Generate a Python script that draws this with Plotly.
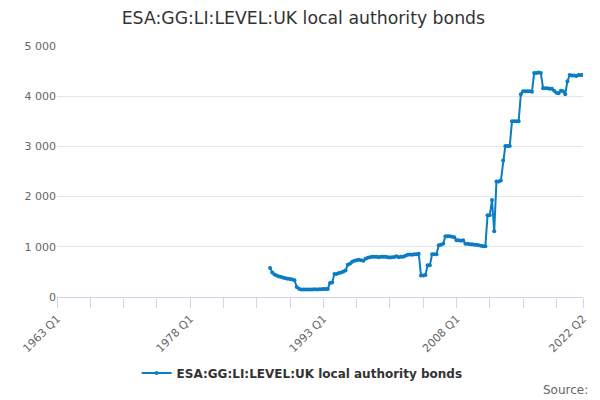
import plotly.graph_objects as go

# quarter labels 1963 Q1 .. 2022 Q2 (category axis)
quarters = [f"{y} Q{q}" for y in range(1963, 2023) for q in range(1, 5)][:238]

# values, 1987 Q1 .. 2022 Q2
first_quarter = "1987 Q1"
bonds = [
    580, 490, 450, 430, 410, 400, 385, 375, 365, 360, 350, 335,
    200, 165, 150, 148, 148, 150, 150, 150, 152, 150, 155, 155,
    160, 160, 160, 280, 290, 460, 460, 480, 490, 510, 530, 640,
    660, 700, 720, 730, 740, 730, 720, 760, 780, 790, 800, 800,
    800, 790, 800, 800, 800, 790, 785, 790, 795, 810, 790, 800,
    800, 820, 840, 845, 840, 850, 850, 860, 430, 430, 440, 630,
    630, 850, 850, 850, 1030, 1040, 1060, 1210, 1210, 1210, 1200, 1190,
    1130, 1130, 1120, 1130, 1060, 1060, 1050, 1050, 1040, 1040, 1030, 1020,
    1010, 1010, 1630, 1630, 1930, 1310, 2300, 2300, 2320, 2720, 3010, 3010,
    3010, 3500, 3500, 3500, 3500, 4040, 4100, 4100, 4100, 4100, 4090, 4460,
    4460, 4470, 4460, 4160, 4160, 4160, 4150, 4150, 4110, 4070, 4060, 4110,
    4100, 4040, 4300, 4420, 4410, 4410, 4400, 4420, 4420, 4420,
]
start = quarters.index(first_quarter)
x_data = quarters[start:start + len(bonds)]

tick_quarters = quarters[::15] + [quarters[-1]]
tick_labels = [q if q in ("1963 Q1", "1978 Q1", "1993 Q1", "2008 Q1", "2022 Q2") else ""
               for q in tick_quarters]

series_name = "ESA:GG:LI:LEVEL:UK local authority bonds"

fig = go.Figure()
fig.add_trace(go.Scatter(
    x=x_data, y=bonds, mode="lines+markers", name=series_name,
    line=dict(color="#0b7dc3", width=2),
    marker=dict(color="#0b7dc3", size=4),
))

# page body has an 8px margin, so the figure is 8px smaller and shifted
fig.update_layout(
    width=592, height=392,
    margin=dict(l=49, r=17, t=38, b=103),
    paper_bgcolor="white", plot_bgcolor="white",
    font=dict(family="DejaVu Sans", color="#666666", size=11),
    separators=". ",
    title=dict(text=series_name, x=0.499, xanchor="center", y=0.975, yanchor="middle",
               font=dict(size=17.3, color="#333333")),
    showlegend=True,
    legend=dict(orientation="h", x=0.466, xanchor="center", y=-0.303, yanchor="middle",
                font=dict(size=12, color="#333333", family="DejaVu Sans", weight="bold")),
    xaxis=dict(
        type="category", categoryorder="array", categoryarray=quarters,
        range=[0, len(quarters) - 1],
        tickmode="array", tickvals=tick_quarters, ticktext=tick_labels,
        tickangle=-45, ticks="outside", ticklen=10, tickcolor="#ccd6eb",
        showline=True, linecolor="#ccd6eb", showgrid=False,
        tickfont=dict(size=11, color="#666666"),
    ),
    yaxis=dict(
        range=[0, 5000], tickvals=[0, 1000, 2000, 3000, 4000, 5000],
        tickformat=",d", gridcolor="#e6e6e6", zeroline=False,
        tickfont=dict(size=11, color="#666666"),
    ),
    annotations=[dict(
        text="Source:", xref="paper", yref="paper", x=1, y=-0.37,
        xanchor="right", yanchor="middle", xshift=7, showarrow=False,
        font=dict(size=12, color="#666666"),
    )],
)

fig.write_html("out.html")
